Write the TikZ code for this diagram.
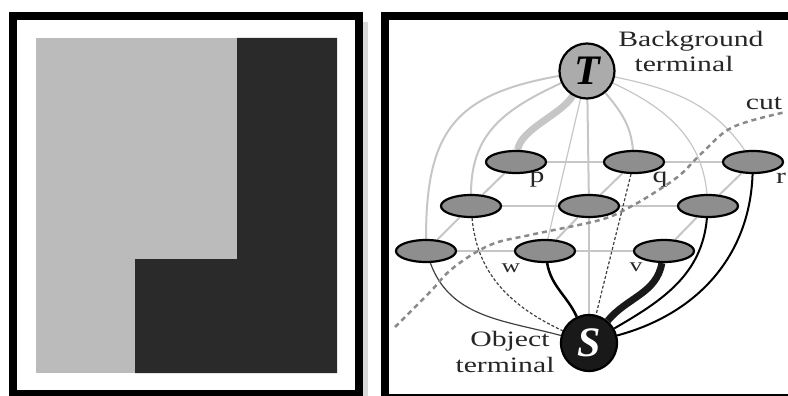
\documentclass[tikz,border=0pt]{standalone}
\usepackage{fontspec}
\usepackage{graphicx}
\setmainfont{Liberation Serif}
\usetikzlibrary{shapes.geometric,backgrounds}
\definecolor{lightpanel}{HTML}{BBBBBB}
\definecolor{darkpanel}{HTML}{2A2A2A}
\definecolor{nodefill}{HTML}{8E8E8E}
\definecolor{tfill}{HTML}{ABABAB}
\definecolor{linkgray}{HTML}{C6C6C6}
\definecolor{cutgray}{HTML}{8A8A8A}
\definecolor{txt}{HTML}{262626}
\newcommand{\widetxt}[1]{\scalebox{1.35}[1]{#1}}
\begin{document}
\begin{tikzpicture}[x=1pt,y=1pt,
  pix/.style={ellipse, draw=black, line width=2.2pt, fill=nodefill, minimum width=60pt, minimum height=22pt, inner sep=0pt},
  term/.style={circle, draw=black, line width=2.2pt, minimum size=55pt, inner sep=0pt, font=\fontsize{42}{42}\selectfont\bfseries\itshape},
  lbl/.style={text=txt, font=\fontsize{22}{22}\selectfont, inner sep=0pt},
  nlink/.style={draw=linkgray, line width=2pt},
  tlink/.style={draw=linkgray, line width=2pt},
  tthin/.style={draw=linkgray, line width=1.2pt},
  slink/.style={draw=black, line width=2pt},
  sthin/.style={draw=black!75, line width=1.2pt},
  frame/.style={draw=black, line width=8pt}]
\useasboundingbox (0,0) rectangle (788,-396);

% ---------- left panel ----------
\fill[gray!30] (363,-22) rectangle (368,-396);
\draw[frame] (13,-16) rectangle (359,-394);
\fill[lightpanel] (36,-38) rectangle (337,-373);
\fill[darkpanel] (237,-38) -- (337,-38) -- (337,-373) -- (135,-373) -- (135,-259) -- (237,-259) -- cycle;

% ---------- right panel ----------
\draw[frame] (385,-16) rectangle (794,-398);

\node[term, fill=tfill, text=black] (T) at (587,-71) {T};
\node[term, fill=black!90, text=white, minimum size=56pt] (S) at (589,-343) {S};

\node[pix] (p)  at (516,-162) {};
\node[pix] (q)  at (634,-162) {};
\node[pix] (r)  at (753,-162) {};
\node[pix] (mL) at (471,-206) {};
\node[pix] (mC) at (589,-206) {};
\node[pix] (mR) at (708,-206) {};
\node[pix] (bL) at (426,-251) {};
\node[pix] (w)  at (545,-251) {};
\node[pix] (v)  at (664,-251) {};

\begin{scope}[on background layer]
  % neighbourhood links
  \draw[nlink] (p) -- (q);  \draw[nlink] (q) -- (r);
  \draw[nlink] (mL) -- (mC); \draw[nlink] (mC) -- (mR);
  \draw[nlink] (bL) -- (w);  \draw[nlink] (w) -- (v);
  \draw[nlink] (p) -- (mL);  \draw[nlink] (mL) -- (bL);
  \draw[nlink] (q) -- (mC);  \draw[nlink] (mC) -- (w);
  \draw[nlink] (r) -- (mR);  \draw[nlink] (mR) -- (v);
  % background terminal links
  \draw[tlink] (T) to[out=190,in=90,looseness=1.3] (bL);
  \draw[tlink] (T) to[out=205,in=90,looseness=1.1] (mL);
  \draw[draw=linkgray, line width=7pt] (T) to[out=240,in=82,looseness=0.7] (p);
  \draw[tthin] (T) -- (w);
  \draw[tlink] (T) -- (mC);
  \draw[tlink] (T) to[out=-50,in=95] (q);
  \draw[tthin] (T) to[out=-25,in=95] (mR);
  \draw[tthin] (T) to[out=-12,in=125] (r);
  % object terminal links
  \draw[draw=linkgray, line width=2pt] (mC) -- (S);
  \draw[sthin] (bL) to[out=-70,in=165] (S);
  \draw[sthin, densely dashed] (mL) to[out=-85,in=155] (S);
  \draw[slink, line width=2.5pt] (w) to[out=-80,in=115] (S);
  \draw[sthin, densely dashed] (q) -- (S);
  \draw[draw=black!90, line width=7pt] (v) to[out=-100,in=50] (S);
  \draw[slink] (mR) to[out=-95,in=30] (S);
  \draw[slink] (r) to[out=-92,in=15] (S);
\end{scope}

% cut
\draw[draw=cutgray, line width=2.5pt, dash pattern=on 5pt off 4pt]
  plot[smooth, tension=0.6] coordinates {(395,-327) (430,-292) (453,-268) (490,-245) (530,-235) (600,-220) (630,-207) (657,-191) (680,-175) (703,-152) (733,-127) (786,-112)};

% labels
\node[lbl] (bg1) at (691,-41) {\widetxt{Background}};
\node[lbl] (bg2) at (684,-64) {\widetxt{terminal}};
\node[lbl] (ob1) at (510,-341) {\widetxt{Object}};
\node[lbl] (ob2) at (505,-365) {\widetxt{terminal}};
\node[lbl] (cut) at (764,-103) {\widetxt{cut}};
\node[lbl] (lp) at (537,-180) {\widetxt{p}};
\node[lbl] (lq) at (660,-180) {\widetxt{q}};
\node[lbl] (lr) at (781,-178) {\widetxt{r}};
\node[lbl, font=\fontsize{19}{19}\selectfont] (lw) at (511,-268) {\widetxt{w}};
\node[lbl, font=\fontsize{19}{19}\selectfont] (lv) at (636,-267) {\widetxt{v}};
\end{tikzpicture}
\end{document}
